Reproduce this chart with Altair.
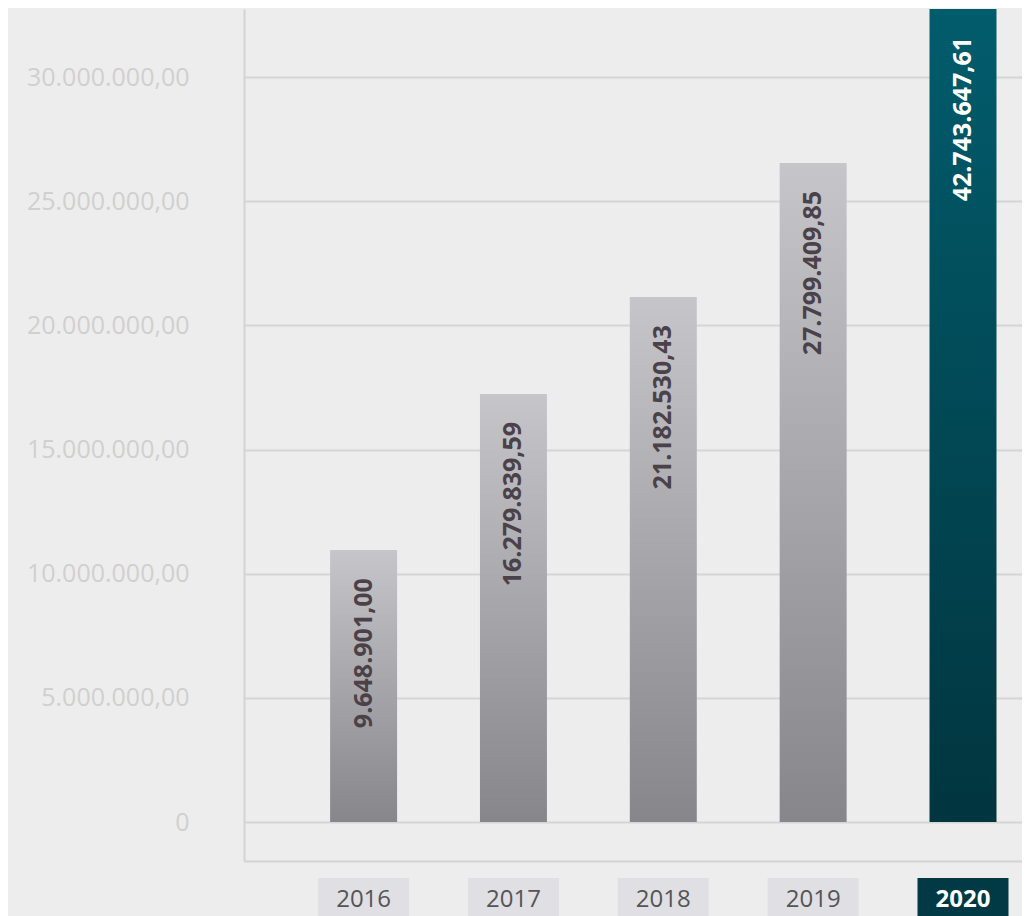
import altair as alt
import pandas as pd

# ---- data ----
years = ["2016", "2017", "2018", "2019", "2020"]
bar_heights = [10_950_000, 17_240_000, 21_140_000, 26_540_000, 32_740_000]
value_labels = ["9.648.901,00", "16.279.839,59", "21.182.530,43", "27.799.409,85", "42.743.647,61"]
y_ticks = [0, 5_000_000, 10_000_000, 15_000_000, 20_000_000, 25_000_000, 30_000_000]
highlight_year = "2020"

df = pd.DataFrame({"year": years, "height": bar_heights, "label": value_labels})

Y_MIN, Y_MAX = -1_570_000, 32_740_000
PLOT_W, PLOT_H = 778, 852
AXIS_EXT = 236
FONT = "Open Sans"

is_hl = alt.datum.year == highlight_year
not_hl = alt.datum.year != highlight_year

x_scale = alt.Scale(domain=years, paddingInner=0.553, paddingOuter=0.3724, align=0.7715)
y_scale = alt.Scale(domain=[Y_MIN, Y_MAX], nice=False, zero=False)

x_main = alt.X("year:N", scale=x_scale,
               axis=alt.Axis(labels=False, ticks=False, title=None, grid=False,
                             domainColor="#d3d3d3", domainWidth=2))
y_main = alt.Y("height:Q", scale=y_scale,
               axis=alt.Axis(values=y_ticks, title=None, ticks=False,
                             labelExpr="datum.value == 0 ? '0' : format(datum.value / 1000000, 'd') + '.000.000,00'",
                             labelFont=FONT, labelFontSize=25, labelColor="#d0d0d0",
                             labelPadding=55, minExtent=AXIS_EXT, maxExtent=AXIS_EXT,
                             grid=True, gridColor="#d5d5d5", gridWidth=2,
                             domainColor="#d3d3d3", domainWidth=2))

grey_grad = alt.Gradient(gradient="linear",
                         stops=[alt.GradientStop(color="#c6c5ca", offset=0),
                                alt.GradientStop(color="#87868a", offset=1)],
                         x1=0, x2=0, y1=0, y2=1)
teal_grad = alt.Gradient(gradient="linear",
                         stops=[alt.GradientStop(color="#025c6c", offset=0),
                                alt.GradientStop(color="#01353f", offset=1)],
                         x1=0, x2=0, y1=0, y2=1)

base = alt.Chart(df)

bars_grey = base.transform_filter(not_hl).mark_bar(color=grey_grad, clip=True).encode(
    x=x_main, y=y_main, y2=alt.datum(0))
bars_teal = base.transform_filter(is_hl).mark_bar(color=teal_grad, clip=True).encode(
    x=x_main, y=y_main, y2=alt.datum(0))

labels = base.mark_text(angle=270, align="right", baseline="middle", dx=-28,
                        font=FONT, fontSize=25, fontWeight="bold").encode(
    x=x_main, y=y_main, text="label:N",
    color=alt.condition(is_hl, alt.value("#ffffff"), alt.value("#4b4148")))

top = alt.layer(bars_grey, bars_teal, labels).properties(width=PLOT_W, height=PLOT_H)

# ---- year boxes below the plot ----
x_box = alt.X("year:N", scale=x_scale, axis=None)
y_box = alt.Y(datum=0, type="quantitative", scale=alt.Scale(domain=[0, 1], nice=False),
              axis=alt.Axis(labels=False, ticks=False, domain=False, grid=False, title=None,
                            minExtent=AXIS_EXT, maxExtent=AXIS_EXT))

boxes = base.mark_bar(size=91).encode(
    x=x_box, y=y_box, y2=alt.datum(1),
    color=alt.condition(is_hl, alt.value("#013a44"), alt.value("#e0dfe3")))
box_text = base.transform_filter(not_hl).mark_text(
    font=FONT, fontSize=24, baseline="middle", dy=3, color="#555555").encode(
    x=x_box, y=alt.Y(datum=0.5, type="quantitative"), text="year:N")
box_text_hl = base.transform_filter(is_hl).mark_text(
    font=FONT, fontSize=24, fontWeight="bold", baseline="middle", dy=3, color="#ffffff").encode(
    x=x_box, y=alt.Y(datum=0.5, type="quantitative"), text="year:N")

bottom = alt.layer(boxes, box_text, box_text_hl).properties(width=PLOT_W, height=38)

chart = alt.vconcat(top, bottom, spacing=17).properties(
    padding={"left": 0, "top": 1, "right": 0, "bottom": 0},
    background="#ededed",
).configure_view(strokeWidth=0)

chart.save("out.html", embed_options={"renderer": "svg", "actions": False})
